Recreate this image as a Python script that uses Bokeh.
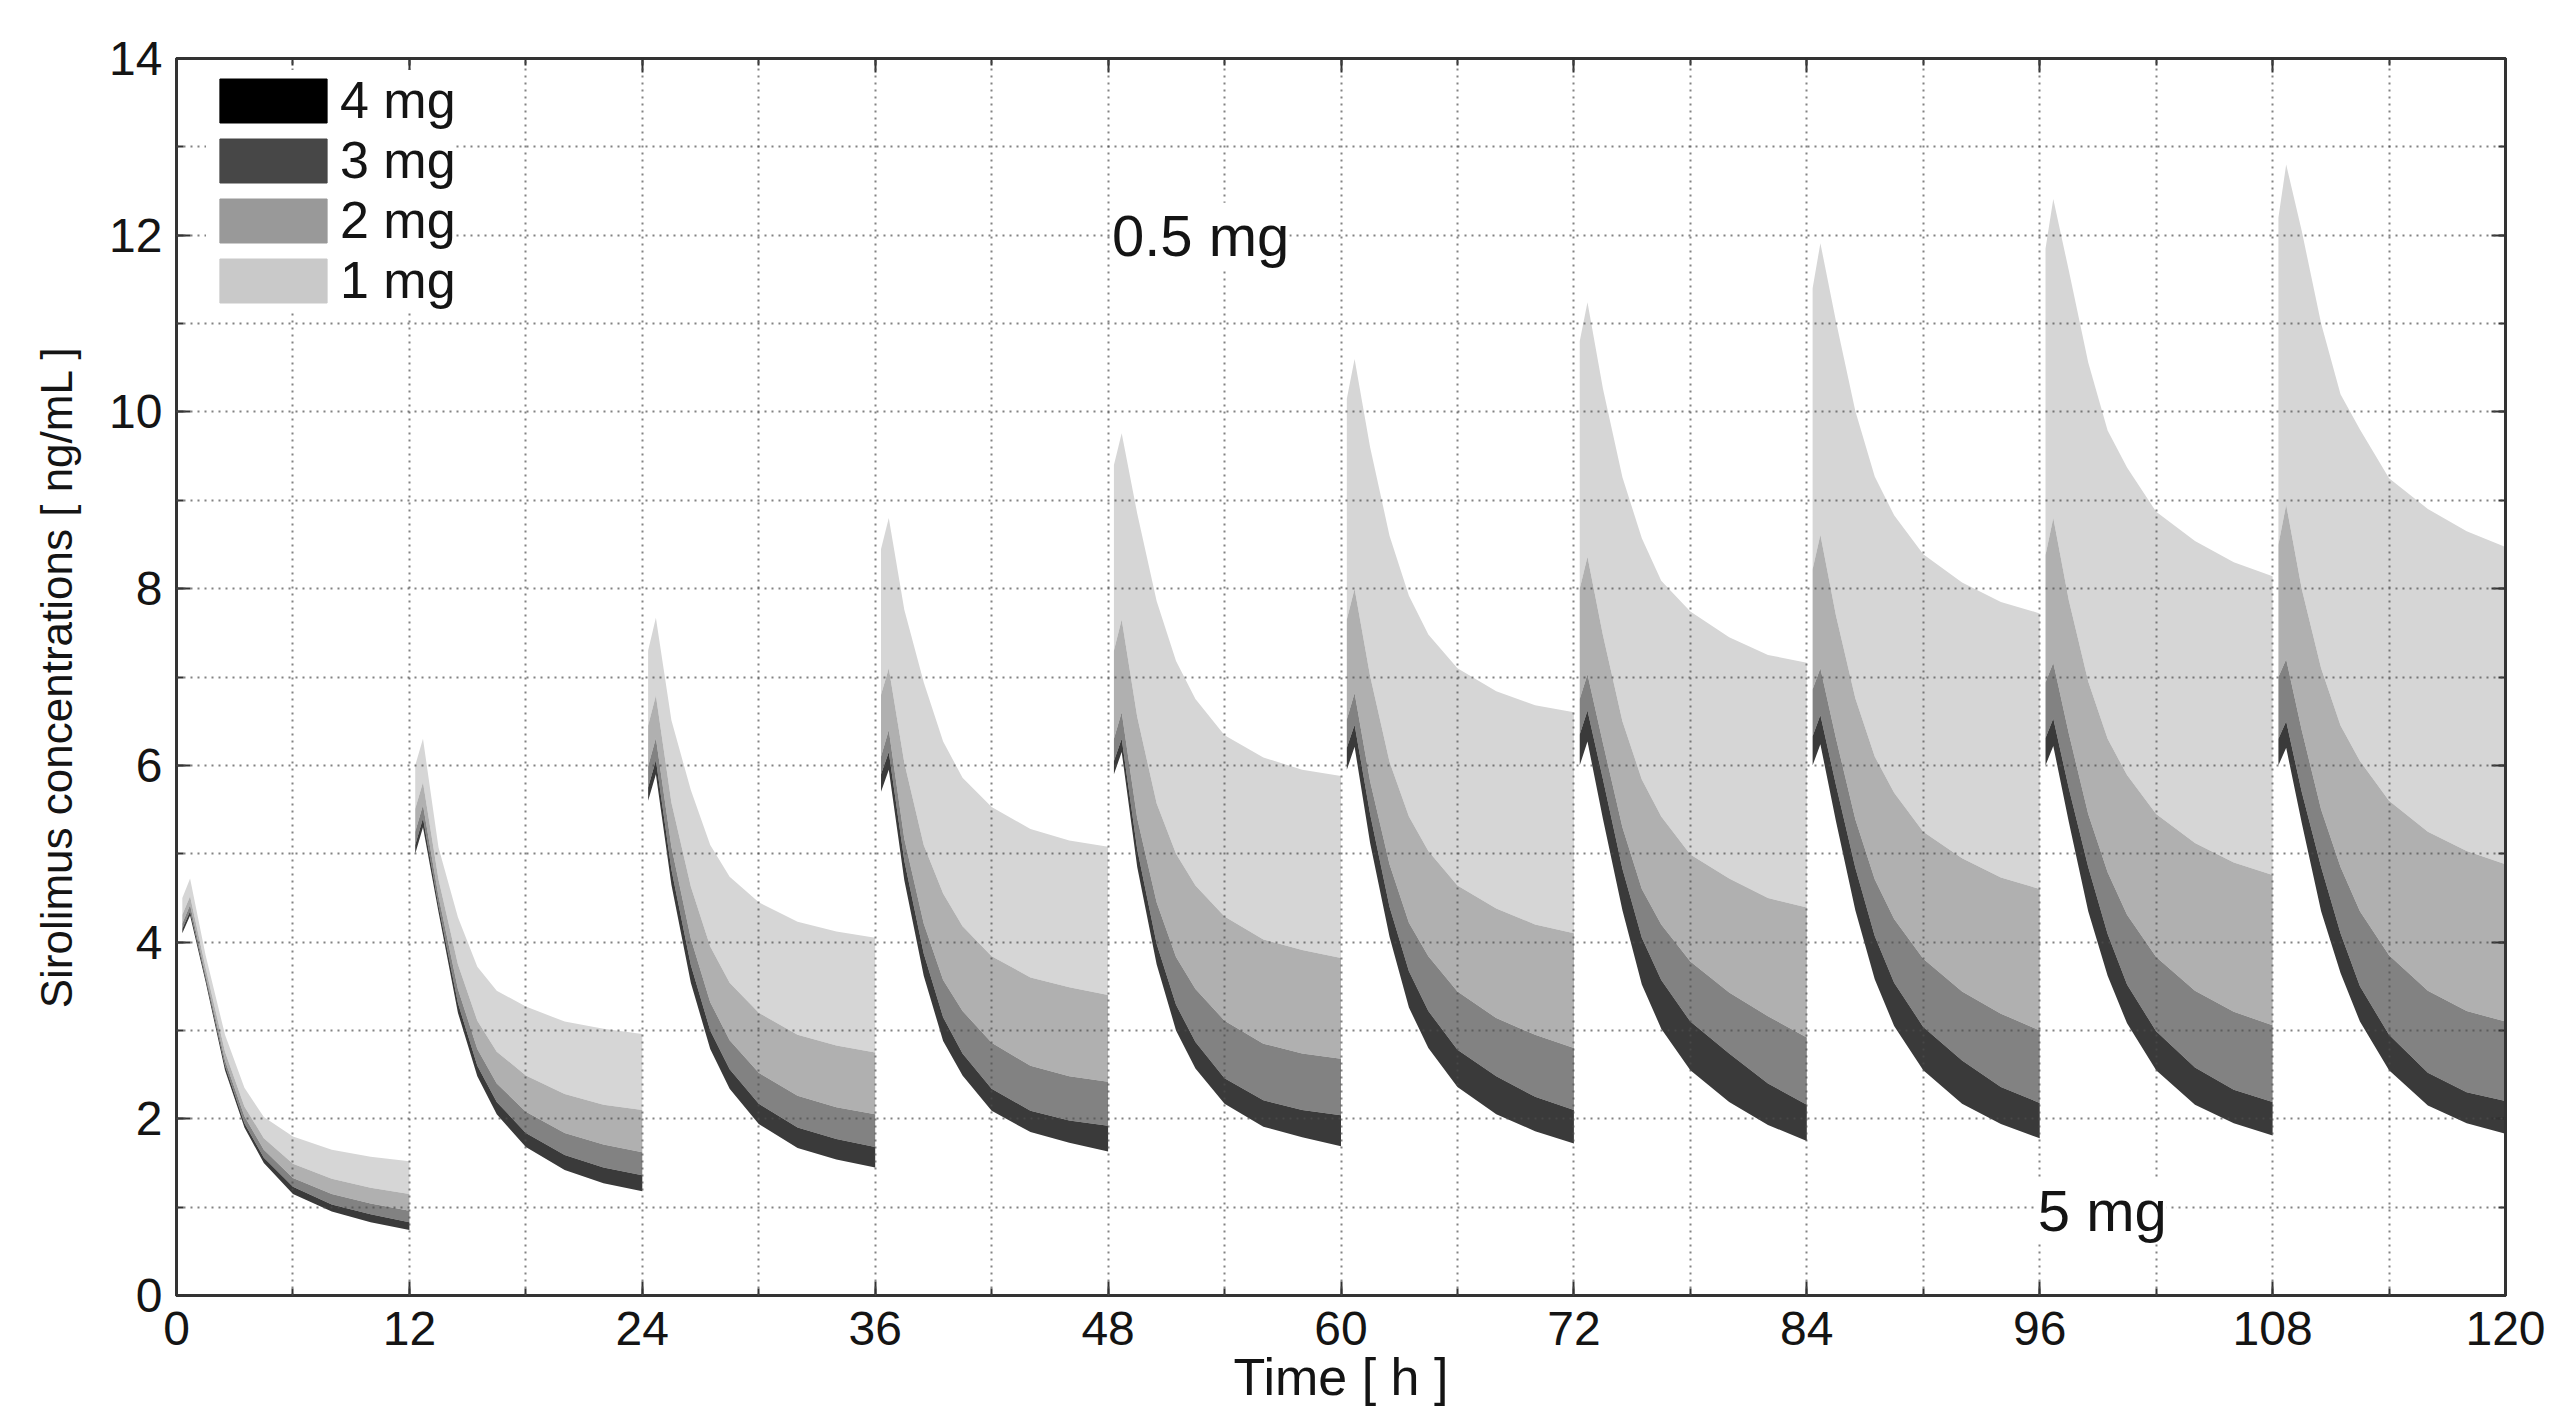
from bokeh.plotting import figure
from bokeh.models import (Range1d, LinearAxis, SingleIntervalTicker, FixedTicker,
                          Legend, LegendItem, Label, CustomJSTickFormatter)
from bokeh.embed import file_html
from bokeh.resources import INLINE

# ---------------- data ----------------
# hours after each 12-h dose at which the concentration curves were read
HOURS_AFTER_DOSE = [0.3, 0.7, 1.5, 2.5, 3.5, 4.5, 6, 8, 10, 12]
DOSE_TIMES = [0, 12, 24, 36, 48, 60, 72, 84, 96, 108]

# upper boundary curve (labelled "0.5 mg"), one row per dosing interval
CONC_05MG = [
    [4.50, 4.72, 3.85, 2.95, 2.35, 2.02, 1.80, 1.65, 1.57, 1.52],
    [6.00, 6.30, 5.07, 4.28, 3.72, 3.45, 3.27, 3.10, 3.02, 2.96],
    [7.30, 7.67, 6.51, 5.72, 5.10, 4.74, 4.45, 4.23, 4.12, 4.05],
    [8.45, 8.80, 7.76, 6.94, 6.27, 5.86, 5.53, 5.28, 5.15, 5.08],
    [9.40, 9.76, 8.85, 7.86, 7.18, 6.75, 6.34, 6.09, 5.95, 5.88],
    [10.15, 10.60, 9.60, 8.60, 7.92, 7.48, 7.10, 6.84, 6.68, 6.60],
    [10.80, 11.24, 10.26, 9.26, 8.57, 8.09, 7.74, 7.45, 7.25, 7.16],
    [11.40, 11.91, 11.03, 10.01, 9.27, 8.83, 8.39, 8.07, 7.85, 7.72],
    [11.85, 12.41, 11.60, 10.56, 9.79, 9.37, 8.87, 8.54, 8.30, 8.14],
    [12.20, 12.80, 12.05, 11.00, 10.20, 9.80, 9.25, 8.90, 8.65, 8.47],
]
CONC_1MG = [
    [4.31, 4.52, 3.71, 2.76, 2.14, 1.78, 1.49, 1.32, 1.22, 1.15],
    [5.51, 5.81, 4.71, 3.75, 3.11, 2.76, 2.49, 2.28, 2.16, 2.10],
    [6.45, 6.79, 5.58, 4.63, 3.95, 3.54, 3.20, 2.95, 2.83, 2.75],
    [6.80, 7.10, 6.03, 5.10, 4.55, 4.18, 3.84, 3.60, 3.49, 3.40],
    [7.30, 7.65, 6.55, 5.57, 5.00, 4.64, 4.29, 4.03, 3.91, 3.82],
    [7.65, 8.00, 7.01, 6.04, 5.42, 5.03, 4.64, 4.38, 4.20, 4.10],
    [8.00, 8.36, 7.47, 6.50, 5.84, 5.42, 4.99, 4.72, 4.50, 4.39],
    [8.22, 8.61, 7.70, 6.76, 6.10, 5.69, 5.25, 4.95, 4.73, 4.60],
    [8.38, 8.80, 7.87, 6.95, 6.30, 5.89, 5.45, 5.12, 4.90, 4.76],
    [8.50, 8.95, 8.00, 7.10, 6.45, 6.05, 5.60, 5.25, 5.03, 4.88],
]
CONC_2MG = [
    [4.21, 4.42, 3.63, 2.66, 2.03, 1.65, 1.33, 1.15, 1.04, 0.96],
    [5.25, 5.55, 4.52, 3.47, 2.79, 2.40, 2.08, 1.84, 1.71, 1.62],
    [5.99, 6.31, 5.08, 4.04, 3.32, 2.89, 2.52, 2.26, 2.13, 2.05],
    [6.10, 6.40, 5.17, 4.21, 3.57, 3.22, 2.86, 2.60, 2.48, 2.42],
    [6.30, 6.60, 5.40, 4.45, 3.83, 3.47, 3.11, 2.85, 2.74, 2.68],
    [6.52, 6.82, 5.82, 4.88, 4.22, 3.84, 3.44, 3.14, 2.95, 2.80],
    [6.75, 7.03, 6.25, 5.30, 4.60, 4.20, 3.78, 3.43, 3.16, 2.92],
    [6.86, 7.10, 6.31, 5.39, 4.71, 4.26, 3.81, 3.44, 3.19, 3.00],
    [6.94, 7.16, 6.36, 5.45, 4.79, 4.31, 3.83, 3.45, 3.21, 3.06],
    [7.00, 7.20, 6.40, 5.50, 4.85, 4.35, 3.85, 3.45, 3.22, 3.10],
]
CONC_3MG = [
    [4.15, 4.35, 3.59, 2.60, 1.95, 1.56, 1.23, 1.03, 0.92, 0.83],
    [5.10, 5.40, 4.41, 3.31, 2.60, 2.19, 1.84, 1.59, 1.45, 1.36],
    [5.75, 6.06, 4.82, 3.74, 3.00, 2.56, 2.17, 1.90, 1.77, 1.68],
    [5.90, 6.15, 4.92, 3.87, 3.15, 2.74, 2.34, 2.09, 1.98, 1.92],
    [6.05, 6.30, 5.05, 3.98, 3.29, 2.87, 2.46, 2.21, 2.10, 2.04],
    [6.20, 6.46, 5.45, 4.40, 3.67, 3.22, 2.78, 2.48, 2.25, 2.10],
    [6.35, 6.62, 5.84, 4.83, 4.05, 3.57, 3.10, 2.74, 2.40, 2.16],
    [6.33, 6.57, 5.78, 4.84, 4.07, 3.54, 3.04, 2.66, 2.36, 2.18],
    [6.31, 6.53, 5.74, 4.85, 4.09, 3.52, 2.99, 2.58, 2.33, 2.19],
    [6.30, 6.50, 5.70, 4.85, 4.10, 3.50, 2.95, 2.52, 2.30, 2.20],
]
# lower boundary curve (labelled "5 mg")
CONC_5MG = [
    [4.10, 4.30, 3.55, 2.55, 1.90, 1.50, 1.15, 0.95, 0.83, 0.74],
    [5.00, 5.30, 4.34, 3.20, 2.48, 2.05, 1.68, 1.42, 1.27, 1.18],
    [5.60, 5.90, 4.65, 3.54, 2.79, 2.34, 1.94, 1.67, 1.54, 1.45],
    [5.70, 5.95, 4.70, 3.62, 2.88, 2.49, 2.09, 1.85, 1.73, 1.63],
    [5.90, 6.15, 4.85, 3.75, 3.00, 2.57, 2.17, 1.91, 1.79, 1.69],
    [5.95, 6.21, 5.12, 4.06, 3.26, 2.80, 2.36, 2.05, 1.86, 1.72],
    [6.00, 6.27, 5.39, 4.36, 3.52, 3.02, 2.55, 2.19, 1.93, 1.75],
    [6.00, 6.24, 5.37, 4.36, 3.58, 3.05, 2.55, 2.17, 1.94, 1.78],
    [6.00, 6.22, 5.36, 4.35, 3.62, 3.08, 2.55, 2.16, 1.95, 1.81],
    [6.00, 6.20, 5.35, 4.35, 3.65, 3.10, 2.55, 2.15, 1.95, 1.83],
]

BAND_LABELS = ["1 mg", "2 mg", "3 mg", "4 mg"]          # top band -> bottom band
BAND_COLORS = ["#d6d6d6", "#b0b0b0", "#828282", "#3a3a3a"]
LEGEND_ORDER = ["4 mg", "3 mg", "2 mg", "1 mg"]
LEGEND_COLORS = ["#000000", "#474747", "#999999", "#c9c9c9"]

X_TICK_STEP = 12
Y_TICK_STEP = 2
X_GRID = list(range(0, 121, 6))
Y_GRID = list(range(0, 15, 1))

FONT = "Liberation Sans"
TXT = "#141414"

# ---------------- figure ----------------
W, H = 2550, 1408
p = figure(width=W, height=H, x_range=Range1d(0, 120), y_range=Range1d(0, 14),
           output_backend="svg", toolbar_location=None,
           min_border_left=176, min_border_right=45, min_border_top=58, min_border_bottom=110)
p.background_fill_color = "white"
p.border_fill_color = "white"
p.outline_line_color = "#333333"
p.outline_line_width = 3

bottom_ax = p.below[0]
left_ax = p.left[0]

bounds = [CONC_05MG, CONC_1MG, CONC_2MG, CONC_3MG, CONC_5MG]
for i, t0 in enumerate(DOSE_TIMES):
    xs = [t0 + h for h in HOURS_AFTER_DOSE]
    for j in range(4):
        p.varea(x=xs, y1=bounds[j + 1][i], y2=bounds[j][i],
                fill_color=BAND_COLORS[j], fill_alpha=1.0)

# grid (dotted, every 6 h and every 1 ng/mL), drawn over the bands
xg = p.xgrid[0]
yg = p.ygrid[0]
xg.ticker = FixedTicker(ticks=X_GRID)
yg.ticker = FixedTicker(ticks=Y_GRID)
for g in (xg, yg):
    g.grid_line_color = "#4d4d4d"
    g.grid_line_dash = "2 5"
    g.grid_line_width = 2
    g.grid_line_alpha = 0.7
    g.level = "guide"

# axes (MATLAB-like box with inward ticks)
bottom_ax.ticker = SingleIntervalTicker(interval=X_TICK_STEP, num_minor_ticks=2)
left_ax.ticker = SingleIntervalTicker(interval=Y_TICK_STEP, num_minor_ticks=2)
blank = CustomJSTickFormatter(code="return ''")
top_ax = LinearAxis(ticker=SingleIntervalTicker(interval=X_TICK_STEP, num_minor_ticks=2),
                    formatter=blank, major_label_standoff=0)
right_ax = LinearAxis(ticker=SingleIntervalTicker(interval=Y_TICK_STEP, num_minor_ticks=2),
                      formatter=blank, major_label_standoff=0)
p.add_layout(top_ax, "above")
p.add_layout(right_ax, "right")

for ax in [bottom_ax, left_ax, top_ax, right_ax]:
    ax.axis_line_color = "#333333"
    ax.axis_line_width = 3
    ax.major_tick_in = 14
    ax.major_tick_out = 0
    ax.minor_tick_in = 7
    ax.minor_tick_out = 0
    ax.major_tick_line_color = "#333333"
    ax.minor_tick_line_color = "#333333"
    ax.major_tick_line_width = 2
    ax.minor_tick_line_width = 2

for ax in [bottom_ax, left_ax]:
    ax.major_label_text_font = FONT
    ax.major_label_text_font_size = "48px"
    ax.major_label_text_color = TXT
bottom_ax.major_label_standoff = 16
left_ax.major_label_standoff = 14

left_ax.axis_label = "Sirolimus concentrations [ ng/mL ]"
left_ax.axis_label_text_font = FONT
left_ax.axis_label_text_font_size = "44px"
left_ax.axis_label_text_font_style = "normal"
left_ax.axis_label_text_color = TXT
left_ax.axis_label_standoff = 25

bottom_ax.axis_label = "Time [ h ]"
bottom_ax.axis_label_text_font = FONT
bottom_ax.axis_label_text_font_size = "52px"
bottom_ax.axis_label_text_font_style = "normal"
bottom_ax.axis_label_text_color = TXT
bottom_ax.axis_label_standoff = 0

# in-plot annotations
p.add_layout(Label(x=48.2, y=12.0, text="0.5 mg", text_align="left", text_baseline="middle",
                   text_font=FONT, text_font_size="58px", text_color=TXT,
                   background_fill_color="white"))
p.add_layout(Label(x=95.9, y=0.96, text="5 mg", text_align="left", text_baseline="middle",
                   text_font=FONT, text_font_size="58px", text_color=TXT,
                   background_fill_color="white"))

# legend with its own swatch colours (swatch renderers sit outside the visible range)
LEGEND_DUMMY_X = [-20, -19]
LEGEND_DUMMY_Y = [-20, -19]
items = []
for lab, col in zip(LEGEND_ORDER, LEGEND_COLORS):
    r = p.quad(left=[LEGEND_DUMMY_X[0]], right=[LEGEND_DUMMY_X[1]],
               bottom=[LEGEND_DUMMY_Y[0]], top=[LEGEND_DUMMY_Y[1]],
               fill_color=col, line_color=col, line_width=1)
    items.append(LegendItem(label=lab, renderers=[r]))
legend = Legend(items=items, location=(30, 985), padding=17, spacing=-1, margin=0,
                glyph_width=134, glyph_height=55, label_standoff=0,
                label_text_font=FONT, label_text_font_size="52px", label_text_color=TXT,
                border_line_color=None, background_fill_color="white", background_fill_alpha=1.0)
p.add_layout(legend)

open("out.html", "w").write(file_html(p, INLINE))
